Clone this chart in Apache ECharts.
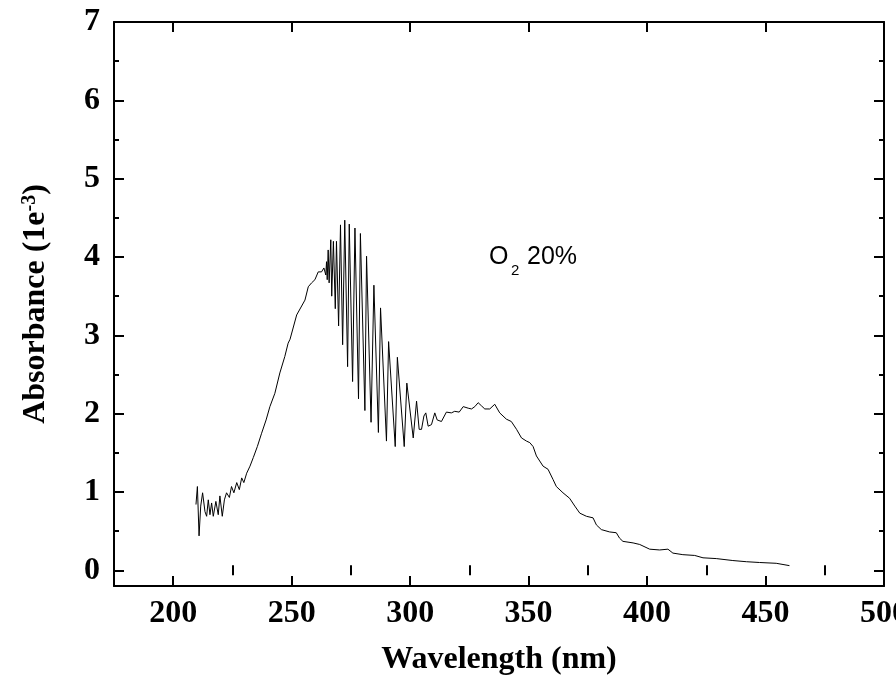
<!DOCTYPE html>
<html>
<head>
<meta charset="utf-8">
<script src="https://cdn.jsdelivr.net/npm/echarts@6/dist/echarts.min.js"></script>
<style>
html,body{margin:0;padding:0;background:#fff;}
#chart{width:896px;height:687px;}
</style>
</head>
<body>
<div id="chart"></div>
<script>
// Wavelength (nm)
var wavelengths = [
209.6,210.2,210.9,211.6,212.4,213.4,214.1,214.8,215.5,216.2,216.9,218.0,219.0,219.7,220.7,221.6,222.5,223.7,224.6,225.6,
226.8,227.9,228.9,229.8,231.0,232.4,233.8,235.5,237.3,239.2,240.8,242.9,245.0,247.1,248.5,249.3,252.1,252.8,255.6,257.0,
258.4,259.8,261.2,262.6,263.6,264.4,264.7,265.0,265.4,265.8,266.5,266.9,267.6,268.4,268.9,269.8,270.6,271.5,272.4,273.6,
274.3,275.7,276.7,278.2,279.0,280.9,281.6,283.5,284.7,286.6,287.5,290.0,290.9,293.7,294.6,297.5,298.6,301.3,302.7,303.8,
304.8,305.8,306.6,307.6,309.0,310.4,311.4,313.2,315.3,317.4,318.8,320.7,322.4,324.5,325.9,327.3,328.7,330.1,331.5,333.6,
335.7,337.8,340.6,342.7,344.9,347.0,349.1,350.5,351.9,353.3,356.1,358.2,360.3,361.7,364.5,367.3,369.5,371.6,374.4,377.2,
378.6,380.7,384.2,387.0,388.4,389.8,394.1,396.9,401.1,405.3,408.8,410.9,415.1,420.1,423.6,429.2,436.2,441.9,447.5,454.5,
460.1
];
// Absorbance (1e-3)
var absorbance = [
0.84,1.07,0.44,0.82,0.99,0.75,0.69,0.90,0.71,0.86,0.69,0.88,0.71,0.95,0.69,0.90,0.99,0.93,1.07,0.99,
1.12,1.03,1.18,1.12,1.24,1.33,1.44,1.58,1.75,1.92,2.09,2.26,2.52,2.73,2.90,2.95,3.26,3.28,3.45,3.62,
3.67,3.71,3.81,3.81,3.86,3.77,3.94,3.71,4.09,3.67,4.22,3.50,4.20,3.34,4.20,3.12,4.41,2.88,4.47,2.60,
4.42,2.41,4.37,2.19,4.30,2.04,4.01,1.89,3.64,1.76,3.35,1.65,2.92,1.58,2.72,1.58,2.39,1.69,2.16,1.80,
1.80,1.97,2.01,1.84,1.86,2.01,1.92,1.90,2.02,2.01,2.03,2.02,2.09,2.07,2.06,2.09,2.14,2.10,2.06,2.06,
2.12,2.01,1.93,1.90,1.80,1.69,1.65,1.63,1.58,1.46,1.33,1.29,1.16,1.07,0.99,0.92,0.82,0.73,0.69,0.67,
0.58,0.52,0.49,0.48,0.41,0.37,0.35,0.33,0.27,0.26,0.27,0.22,0.20,0.19,0.16,0.15,0.125,0.11,0.10,0.09,
0.06
];
var xMajorTicks = [200,250,300,350,400,450,500];
var xMinorTicks = [225,275,325,375,425,475];
var yMajorTicks = [0,1,2,3,4,5,6,7];
var yMinorTicks = [0.5,1.5,2.5,3.5,4.5,5.5,6.5];

var data = wavelengths.map(function(w,i){return [w, absorbance[i]];});

var serif = 'Liberation Serif';
var lineStyle = {color:'#000', width:2};
function axisBase(extra){
  var o = {
    type:'value', splitLine:{show:false},
    axisLine:{show:true, onZero:false, lineStyle:lineStyle},
    axisTick:{show:false},
    axisLabel:{show:false}
  };
  for (var k in extra) o[k] = extra[k];
  return o;
}
var xr = {min:175, max:500};
var yr = {min:-0.2, max:7};

var option = {
  animation:false,
  backgroundColor:'#fff',
  grid:{left:114, right:12, top:22, bottom:101, containLabel:false, outerBoundsMode:'none'},
  xAxis:[
    axisBase({position:'bottom', min:xr.min, max:xr.max,
      axisTick:{show:true, inside:true, length:10, lineStyle:lineStyle, customValues:xMajorTicks},
      axisLabel:{show:true, margin:12, customValues:xMajorTicks, color:'#000',
        fontFamily:serif, fontWeight:'bold', fontSize:32, hideOverlap:false},
      name:'Wavelength (nm)', nameLocation:'middle', nameGap:58,
      nameTextStyle:{fontFamily:serif, fontWeight:'bold', fontSize:32, color:'#000'}
    }),
    axisBase({position:'bottom', min:xr.min, max:xr.max,
      axisLine:{show:false},
      axisTick:{show:true, inside:true, length:5, lineStyle:lineStyle, customValues:xMinorTicks}}),
    axisBase({position:'top', min:xr.min, max:xr.max,
      axisTick:{show:true, inside:true, length:10, lineStyle:lineStyle, customValues:xMajorTicks}}),
    axisBase({position:'top', min:xr.min, max:xr.max,
      axisLine:{show:false},
      axisTick:{show:true, inside:true, length:5, lineStyle:lineStyle, customValues:xMinorTicks}})
  ],
  yAxis:[
    axisBase({position:'left', min:yr.min, max:yr.max,
      axisTick:{show:true, inside:true, length:10, lineStyle:lineStyle, customValues:yMajorTicks},
      axisLabel:{show:true, margin:14, customValues:yMajorTicks, color:'#000',
        fontFamily:serif, fontWeight:'bold', fontSize:32},
      name:'Absorbance (1e{sup|-3})', nameLocation:'middle', nameGap:62,
      nameTextStyle:{fontFamily:serif, fontWeight:'bold', fontSize:32, color:'#000',
        rich:{sup:{fontFamily:serif, fontWeight:'bold', fontSize:20, color:'#000', verticalAlign:'top', padding:[0,0,12,0]}}}
    }),
    axisBase({position:'left', min:yr.min, max:yr.max,
      axisLine:{show:false},
      axisTick:{show:true, inside:true, length:5, lineStyle:lineStyle, customValues:yMinorTicks}}),
    axisBase({position:'right', min:yr.min, max:yr.max,
      axisTick:{show:true, inside:true, length:10, lineStyle:lineStyle, customValues:yMajorTicks}}),
    axisBase({position:'right', min:yr.min, max:yr.max,
      axisLine:{show:false},
      axisTick:{show:true, inside:true, length:5, lineStyle:lineStyle, customValues:yMinorTicks}})
  ],
  series:[{
    type:'line', data:data, xAxisIndex:0, yAxisIndex:0,
    showSymbol:false, symbol:'none', smooth:false,
    lineStyle:{color:'#000', width:1}
  }],
  graphic:[
    {type:'text', left:489, top:245, style:{text:'O', font:'25px "Liberation Sans"', fill:'#000'}},
    {type:'text', left:511, top:263, style:{text:'2', font:'15px "Liberation Sans"', fill:'#000'}},
    {type:'text', left:527, top:245, style:{text:'20%', font:'25px "Liberation Sans"', fill:'#000'}}
  ]
};
var chart = echarts.init(document.getElementById('chart'), null, {renderer:'canvas'});
chart.setOption(option);
</script>
</body>
</html>
